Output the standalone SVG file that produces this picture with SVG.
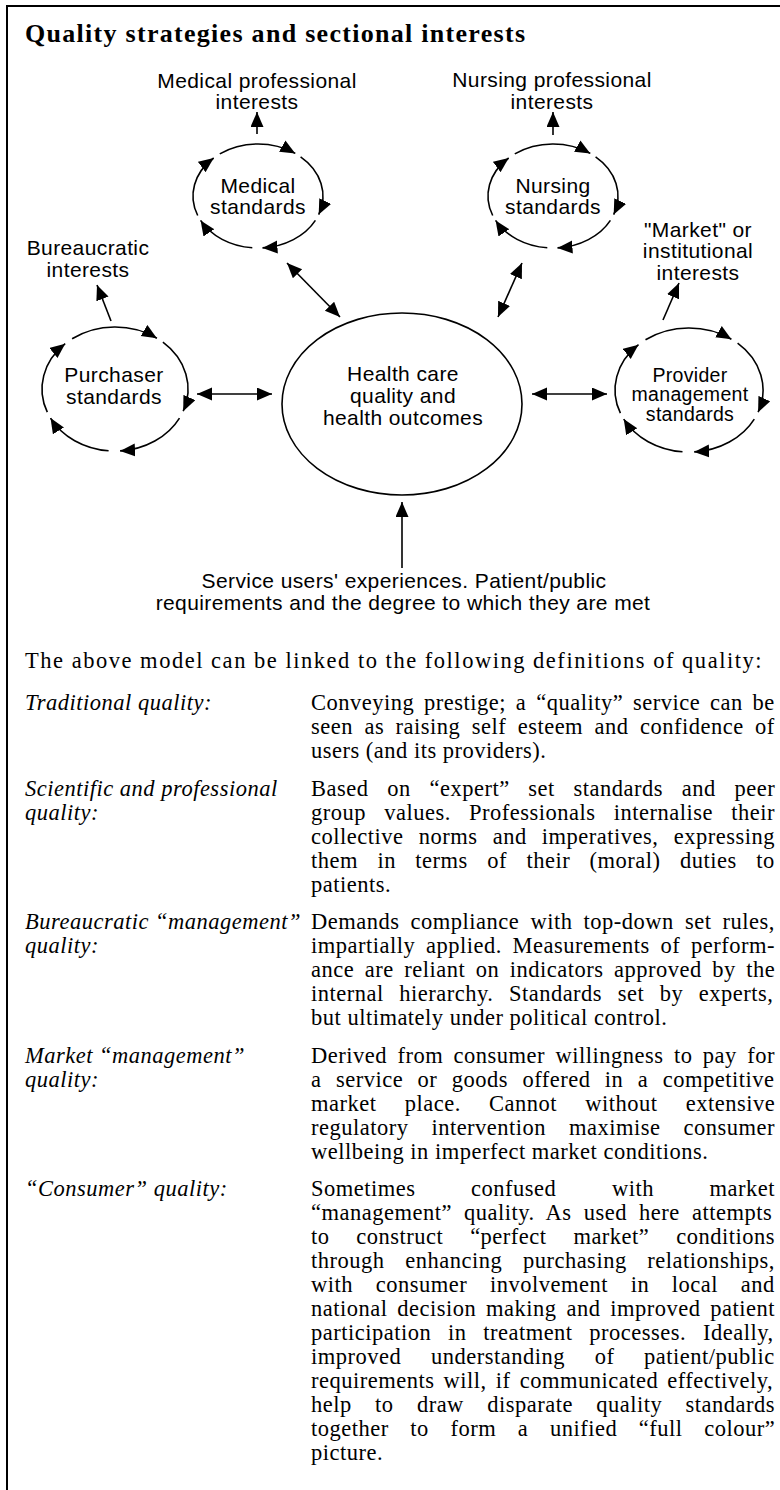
<svg xmlns="http://www.w3.org/2000/svg" width="780" height="1490" viewBox="0 0 780 1490">
<defs>
<marker id="ah" markerUnits="userSpaceOnUse" markerWidth="16" markerHeight="14" refX="15" refY="6.5" orient="auto-start-reverse"><path d="M0,0 L15,6.5 L0,13 z" fill="#000"/></marker>
<style>
.sans{font-family:"Liberation Sans",Arial,sans-serif;font-size:21px;letter-spacing:0.4px;fill:#000;text-anchor:middle}
.small{font-size:19.5px;letter-spacing:0.3px}
.serif{font-family:"Liberation Serif","Times New Roman",serif;font-size:22.5px;letter-spacing:0.5px;fill:#000}
.it{font-style:italic}
.title{font-family:"Liberation Serif","Times New Roman",serif;font-size:26px;font-weight:bold;fill:#000}
.ln{fill:none;stroke:#000;stroke-width:1.6}
.cyc{fill:none;stroke:#000;stroke-width:1.6;marker-end:url(#ah)}
.arr{fill:none;stroke:#000;stroke-width:1.6;marker-end:url(#ah)}
.dbl{fill:none;stroke:#000;stroke-width:1.6;marker-start:url(#ah);marker-end:url(#ah)}
</style>
</defs>
<rect width="780" height="1490" fill="#fff"/>
<path d="M7,1490 V6 H780" fill="none" stroke="#000" stroke-width="2"/>
<text class="title" x="25" y="42" textLength="500" lengthAdjust="spacing">Quality strategies and sectional interests</text>

<g id="medical-interests">
<text class="sans"><tspan x="257" y="87.5">Medical professional</tspan><tspan x="257" y="109">interests</tspan></text>
</g>
<g id="nursing-interests">
<text class="sans"><tspan x="552" y="87">Nursing professional</tspan><tspan x="552" y="108.5">interests</tspan></text>
</g>
<g id="bureaucratic-interests">
<text class="sans"><tspan x="88" y="255">Bureaucratic</tspan><tspan x="88" y="276.5">interests</tspan></text>
</g>
<g id="market-interests">
<text class="sans"><tspan x="698" y="236.5">"Market" or</tspan><tspan x="698" y="258">institutional</tspan><tspan x="698" y="279.5">interests</tspan></text>
</g>

<g id="medical-standards">
<path class="cyc" d="M219.8,153.9 A65,52 0 0 1 295.3,153.4"/>
<path class="cyc" d="M300.6,156.8 A65,52 0 0 1 318.7,214.6"/>
<path class="cyc" d="M315.4,220.4 A65,52 0 0 1 262.5,247.9"/>
<path class="cyc" d="M252.3,247.8 A65,52 0 0 1 200.6,220.4"/>
<path class="cyc" d="M197.7,215.5 A65,52 0 0 1 213.7,158.0"/>
<text class="sans"><tspan x="258" y="192.5">Medical</tspan><tspan x="258" y="214">standards</tspan></text>
</g>
<g id="nursing-standards">
<path class="cyc" d="M514.8,153.9 A65,52 0 0 1 590.3,153.4"/>
<path class="cyc" d="M595.6,156.8 A65,52 0 0 1 613.7,214.6"/>
<path class="cyc" d="M610.4,220.4 A65,52 0 0 1 557.5,247.9"/>
<path class="cyc" d="M547.3,247.8 A65,52 0 0 1 495.6,220.4"/>
<path class="cyc" d="M492.7,215.5 A65,52 0 0 1 508.7,158.0"/>
<text class="sans"><tspan x="553" y="192.5">Nursing</tspan><tspan x="553" y="214">standards</tspan></text>
</g>
<g id="purchaser-standards">
<path class="cyc" d="M72.1,338.8 A73,62 0 0 1 156.9,338.2"/>
<path class="cyc" d="M162.9,342.2 A73,62 0 0 1 183.2,411.2"/>
<path class="cyc" d="M179.5,418.1 A73,62 0 0 1 120.1,450.9"/>
<path class="cyc" d="M108.6,450.8 A73,62 0 0 1 50.5,418.1"/>
<path class="cyc" d="M47.3,412.2 A73,62 0 0 1 65.2,343.7"/>
<text class="sans"><tspan x="114" y="382">Purchaser</tspan><tspan x="114" y="403.5">standards</tspan></text>
</g>
<g id="provider-standards">
<path class="cyc" d="M645.5,339.8 A74,62 0 0 1 731.4,339.2"/>
<path class="cyc" d="M737.6,343.2 A74,62 0 0 1 758.1,412.2"/>
<path class="cyc" d="M754.3,419.1 A74,62 0 0 1 694.2,451.9"/>
<path class="cyc" d="M682.5,451.8 A74,62 0 0 1 623.7,419.1"/>
<path class="cyc" d="M620.4,413.2 A74,62 0 0 1 638.5,344.7"/>
<text class="sans small"><tspan x="690" y="381.5">Provider</tspan><tspan x="690" y="401">management</tspan><tspan x="690" y="420.5">standards</tspan></text>
</g>
<g id="health-outcomes">
<ellipse class="ln" cx="402" cy="404" rx="120" ry="91"/>
<text class="sans"><tspan x="403" y="381">Health care</tspan><tspan x="403" y="403">quality and</tspan><tspan x="403" y="425">health outcomes</tspan></text>
</g>
<g id="service-users">
<text class="sans"><tspan x="404" y="588">Service users' experiences. Patient/public</tspan><tspan x="403" y="610">requirements and the degree to which they are met</tspan></text>
</g>

<g id="connectors">
<path class="arr" d="M257,134 V112"/>
<path class="arr" d="M553,135 V112"/>
<path class="arr" d="M111,321 L97,285"/>
<path class="arr" d="M663,320 L679,283"/>
<path class="dbl" d="M197,394 H272"/>
<path class="dbl" d="M287,263 L340,317"/>
<path class="dbl" d="M522,263 L498,317"/>
<path class="dbl" d="M532,394 H607"/>
<path class="arr" d="M402,568 V502"/>
</g>

<g id="definitions">
<text class="serif" x="25" y="668" textLength="737" lengthAdjust="spacing">The above model can be linked to the following definitions of quality:</text>

<text class="serif it" x="25" y="710">Traditional quality:</text>
<text class="serif"><tspan x="311" y="710" word-spacing="3.7">Conveying prestige; a “quality” service can be</tspan><tspan x="311" y="734" word-spacing="5.3">seen as raising self esteem and confidence of</tspan><tspan x="311" y="758">users (and its providers).</tspan></text>

<text class="serif it"><tspan x="25" y="795.5">Scientific and professional</tspan><tspan x="25" y="819.5">quality:</tspan></text>
<text class="serif"><tspan x="311" y="795.5" word-spacing="12.6">Based on “expert” set standards and peer</tspan><tspan x="311" y="819.5" word-spacing="12.1">group values. Professionals internalise their</tspan><tspan x="311" y="843.5" word-spacing="9.1">collective norms and imperatives, expressing</tspan><tspan x="311" y="867.5" word-spacing="13.3">them in terms of their (moral) duties to</tspan><tspan x="311" y="891.5">patients.</tspan></text>

<text class="serif it"><tspan x="25" y="929">Bureaucratic “management”</tspan><tspan x="25" y="953">quality:</tspan></text>
<text class="serif"><tspan x="311" y="929" word-spacing="5">Demands compliance with top-down set rules,</tspan><tspan x="311" y="953" word-spacing="4.6">impartially applied. Measurements of perform-</tspan><tspan x="311" y="977" word-spacing="4.4">ance are reliant on indicators approved by the</tspan><tspan x="311" y="1001" word-spacing="9.4">internal hierarchy. Standards set by experts,</tspan><tspan x="311" y="1025">but ultimately under political control.</tspan></text>

<text class="serif it"><tspan x="25" y="1062.5">Market “management”</tspan><tspan x="25" y="1086.5">quality:</tspan></text>
<text class="serif"><tspan x="311" y="1062.5" word-spacing="4.3">Derived from consumer willingness to pay for</tspan><tspan x="311" y="1086.5" word-spacing="8.3">a service or goods offered in a competitive</tspan><tspan x="311" y="1110.5" word-spacing="22.1">market place. Cannot without extensive</tspan><tspan x="311" y="1134.5" word-spacing="16.8">regulatory intervention maximise consumer</tspan><tspan x="311" y="1158.5">wellbeing in imperfect market conditions.</tspan></text>

<text class="serif it" x="25" y="1196">“Consumer” quality:</text>
<text class="serif"><tspan x="311" y="1196" word-spacing="49.5">Sometimes confused with market</tspan><tspan x="311" y="1220" word-spacing="6">“management” quality. As used here attempts</tspan><tspan x="311" y="1244" word-spacing="20.7">to construct “perfect market” conditions</tspan><tspan x="311" y="1268" word-spacing="14.6">through enhancing purchasing relationships,</tspan><tspan x="311" y="1292" word-spacing="16.6">with consumer involvement in local and</tspan><tspan x="311" y="1316" word-spacing="3.7">national decision making and improved patient</tspan><tspan x="311" y="1340" word-spacing="10.6">participation in treatment processes. Ideally,</tspan><tspan x="311" y="1364" word-spacing="23.6">improved understanding of patient/public</tspan><tspan x="311" y="1388" word-spacing="3">requirements will, if communicated effectively,</tspan><tspan x="311" y="1412" word-spacing="17.2">help to draw disparate quality standards</tspan><tspan x="311" y="1436" word-spacing="15.5">together to form a unified “full colour”</tspan><tspan x="311" y="1460">picture.</tspan></text>
</g>
</svg>
